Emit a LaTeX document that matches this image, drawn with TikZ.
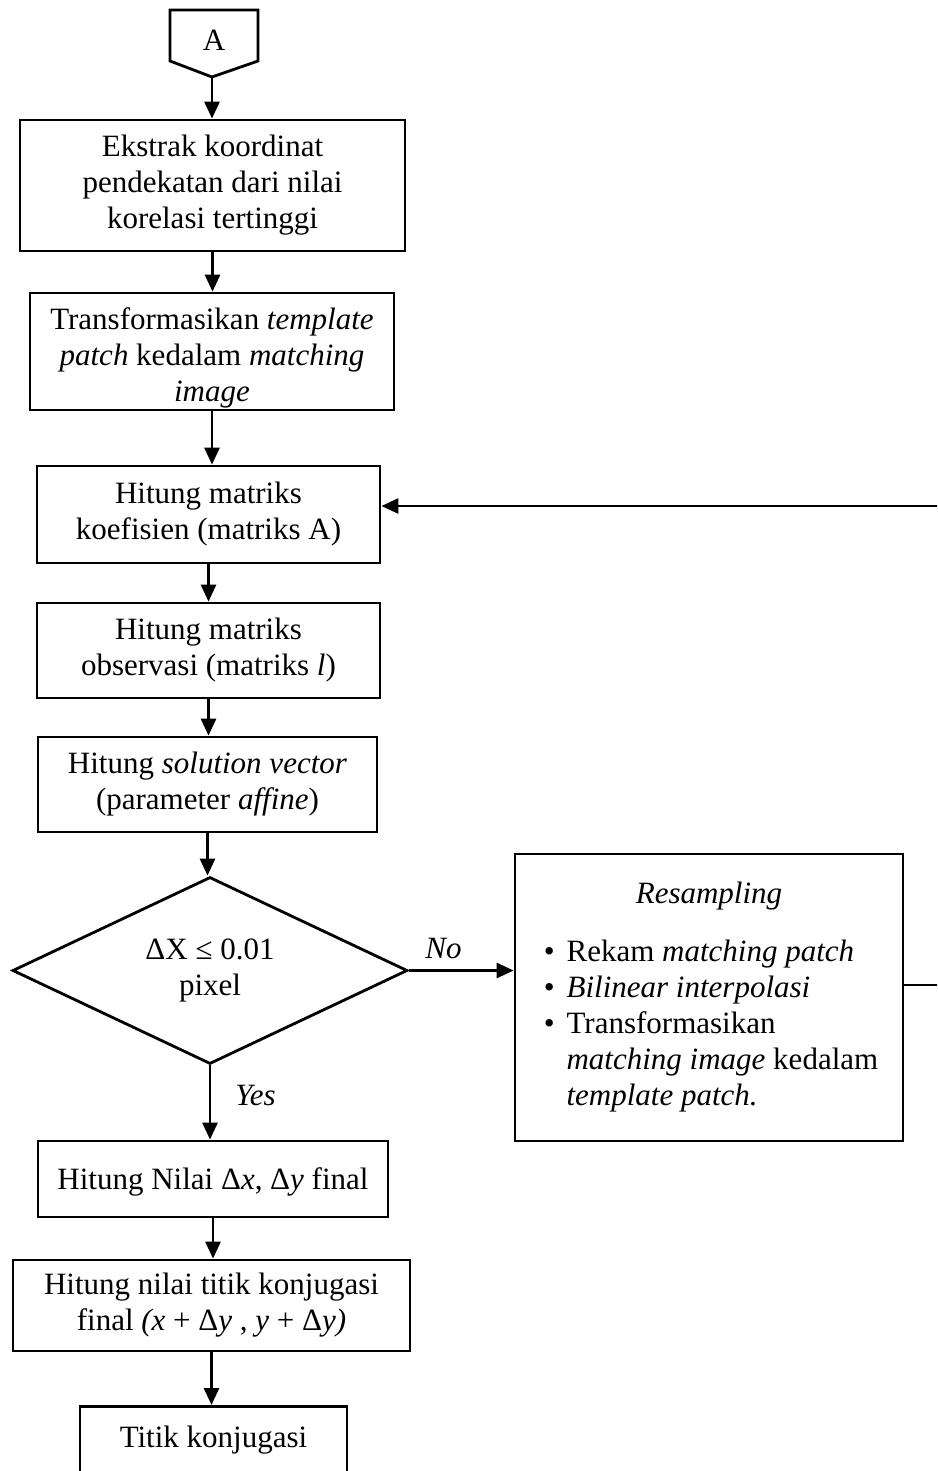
\documentclass[tikz,border=0pt]{standalone}
\usepackage{fontspec}
\setmainfont{Liberation Serif}
\usetikzlibrary{arrows.meta,shapes.geometric}
\newcommand\bul{•}
\begin{document}
\begin{tikzpicture}[x=1pt,y=-1pt,
  line width=2.8pt,
  every node/.style={font=\fontsize{31}{36}\selectfont},
  box/.style={draw, align=center, inner sep=0pt},
  arr/.style={-{Triangle[length=17pt,width=15pt]}},
  lbl/.style={font=\fontsize{31}{36}\selectfont\itshape, inner sep=0pt}
]
\clip (0,0) rectangle (937,1471);

% off-page connector
\draw (170,10) -- (258,10) -- (258,61) -- (212,77) -- (170,61) -- cycle;
\node (A) at (214,40) {A};
\coordinate (Ap) at (212,77);

\node[box, minimum width=385pt, minimum height=131pt] (b1) at (212.5,185.5)
  {Ekstrak koordinat\\pendekatan dari nilai\\korelasi tertinggi};
\node[box, minimum width=364pt, minimum height=117pt] (b2) at (212,351.5)
  {\raisebox{-7pt}[\height][\depth]{\begin{tabular}{@{}c@{}}Transformasikan \textit{template}\\\textit{patch} kedalam \textit{matching}\\\textit{image}\end{tabular}}};
\node[box, minimum width=343pt, minimum height=97pt] (b3) at (208.5,514.5)
  {Hitung matriks\\koefisien (matriks A)};
\node[box, minimum width=343pt, minimum height=95pt] (b4) at (208.5,650.5)
  {Hitung matriks\\observasi (matriks \textit{l})};
\node[box, minimum width=339pt, minimum height=95pt] (b5) at (207.5,784.5)
  {Hitung \textit{solution vector}\\(parameter \textit{affine})};
\node[draw, shape=diamond, aspect=2.1, minimum width=395pt, minimum height=187pt,
  inner sep=0pt, align=center] (d) at (210,970.5) {ΔX ≤ 0.01\\pixel};
\node[box, minimum width=388pt, minimum height=287pt] (res) at (709,997.5)
  {\begin{tabular}{@{\hspace{4pt}}l@{\hspace{12pt}}l@{}}
   \multicolumn{2}{c}{\textit{Resampling}}\\[22pt]
   \bul & Rekam \textit{matching patch}\\
   \bul & \textit{Bilinear interpolasi}\\
   \bul & Transformasikan\\
     & \textit{matching image} kedalam\\
     & \textit{template patch.}
   \end{tabular}};
\node[box, minimum width=350pt, minimum height=76pt] (b6) at (213,1179)
  {\raisebox{-3pt}[\height][\depth]{Hitung Nilai Δ\textit{x}, Δ\textit{y} final}};
\node[box, minimum width=397pt, minimum height=91pt] (b7) at (211.5,1305.5)
  {Hitung nilai titik konjugasi\\final \textit{(x} + Δ\textit{y} , \textit{y} + Δ\textit{y)}};
\node[box, anchor=north, minimum width=267pt, inner ysep=20pt] (b8) at (213.5,1405)
  {Titik konjugasi\\\strut};

\draw[arr] (Ap) -- (Ap |- b1.north);
\draw[arr] (b1.south) -- (b1.south |- b2.north);
\draw[arr] (b2.south) -- (b2.south |- b3.north);
\draw[arr] (b3.south) -- (b3.south |- b4.north);
\draw[arr] (b4.south) -- (b4.south |- b5.north);
\draw[arr] (b5.south) -- (b5.south |- d.north);
\draw[arr] (d.east) -- node[lbl, pos=0.33, above=10pt] {No} (res.west |- d.east);
\draw[arr] (d.south) -- node[lbl, pos=0.4, right=24pt] {Yes} (d.south |- b6.north);
\draw[arr] (b6.south) -- (b6.south |- b7.north);
\draw[arr] (b7.south) -- (b7.south |- b8.north);

\coordinate (r1) at (950,985);
\coordinate (r2) at (950,506);
\draw[arr] (res.east |- r1) -- (r1) -- (r2) -- (r2 -| b3.east);
\end{tikzpicture}
\end{document}
